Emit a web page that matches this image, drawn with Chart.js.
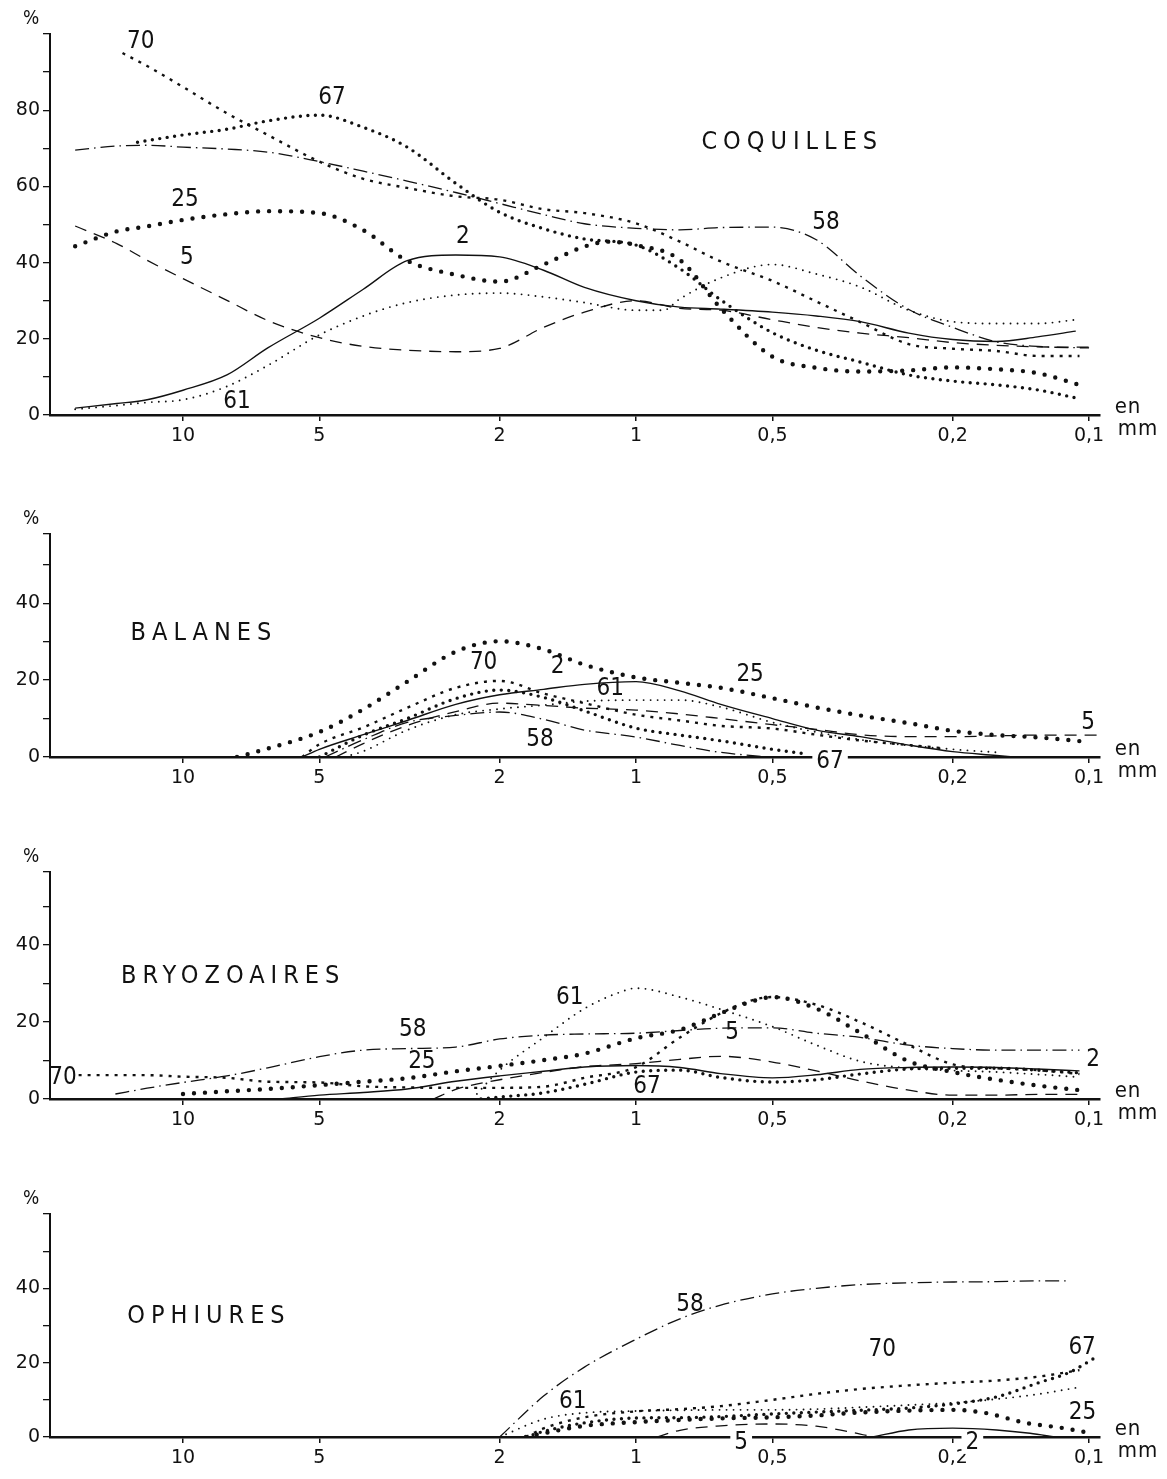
<!DOCTYPE html>
<html><head><meta charset="utf-8">
<script src="https://cdn.jsdelivr.net/npm/chart.js@4.4.1/dist/chart.umd.min.js"></script>
<style>
html,body{margin:0;padding:0;background:#fff;}
body{width:1167px;height:1479px;position:relative;overflow:hidden;}
canvas{position:absolute;left:0;}
</style></head><body>
<canvas id="c1"></canvas><canvas id="c2"></canvas><canvas id="c3"></canvas><canvas id="c4"></canvas>
<script>
// x axis: grain size in mm (log scale, reversed)
const SIZE_TICKS = [10, 5, 2, 1, 0.5, 0.2, 0.1];
const SERIES_NAMES = ['2', '5', '25', '58', '61', '67', '70'];
const PANEL_TITLES = ['COQUILLES', 'BALANES', 'BRYOZOAIRES', 'OPHIURES'];

// ---- COQUILLES : [mm, %]
const coq_2  = [[17.3,1.8],[14,3],[12,4],[10,6.5],[8,10.5],[6.5,17.6],[5,25.4],[4,33],[3.2,40.5],[2.5,42],[2,41.5],[1.6,38],[1.3,33.5],[1,30],[0.8,28.3],[0.65,27.8],[0.5,27],[0.4,26],[0.32,24.5],[0.25,21.5],[0.2,19.8],[0.16,19.3],[0.13,20.5],[0.107,22]];
const coq_5  = [[17.3,49.6],[14,45],[12,40.6],[10,35.8],[8,30.1],[6.5,24.8],[5,20.3],[4,18],[3.2,17],[2.5,16.6],[2,17.5],[1.6,23],[1.3,27],[1,30],[0.8,28],[0.65,27.5],[0.5,25],[0.4,23],[0.32,21.5],[0.25,20.3],[0.2,19],[0.16,18.3],[0.13,17.9],[0.1,17.8]];
const coq_25 = [[17.3,44.3],[14,48.2],[12,49.5],[10,51.2],[8,52.7],[6.5,53.5],[5,53],[4,48.5],[3.2,40.5],[2.5,36.8],[2,35],[1.6,39.5],[1.3,44.2],[1.15,45.5],[1,44.6],[0.8,40.7],[0.65,28],[0.5,15.3],[0.4,12.4],[0.32,11.4],[0.25,11.7],[0.2,12.5],[0.16,12],[0.13,11],[0.105,7.9]];
const coq_58 = [[17.3,69.5],[14,70.6],[12,70.8],[10,70.3],[8,69.8],[6.5,69],[5,66.5],[4,64],[3.2,61.4],[2.5,58.4],[2,55.5],[1.6,52.6],[1.3,50.2],[1,49],[0.8,48.6],[0.65,49.2],[0.5,49.3],[0.4,46],[0.32,36.5],[0.25,27.7],[0.2,23],[0.16,19.2],[0.13,18],[0.1,17.6]];
const coq_61 = [[17.3,1.5],[14,2.5],[12,3.3],[10,4],[8,7.5],[6.5,13],[5,21],[4,26],[3.2,29.5],[2.5,31.5],[2,32],[1.6,31],[1.3,29.5],[1,27.5],[0.87,27.5],[0.8,30.5],[0.65,36],[0.5,39.5],[0.4,37],[0.32,33.6],[0.25,27.5],[0.2,24.5],[0.16,24],[0.13,24],[0.107,25]];
const coq_67 = [[12.6,71.6],[10,73.5],[8,75],[6.5,77.2],[5,78.7],[4,75.5],[3.2,70.3],[2.5,60.8],[2,53.2],[1.6,48.9],[1.3,46.2],[1,44.6],[0.8,38.4],[0.65,30.2],[0.5,21.6],[0.4,17],[0.32,13.9],[0.25,10.5],[0.2,8.9],[0.16,7.9],[0.13,6.6],[0.107,4.5]];
const coq_70 = [[13.6,95],[12,91.6],[10,86.1],[8,79.2],[6.5,73.5],[5,66.5],[4,62],[3.2,59.6],[2.5,57.4],[2,56.5],[1.6,54],[1.3,53],[1,50.3],[0.8,45.5],[0.65,40.3],[0.5,35.2],[0.4,29.8],[0.32,24.4],[0.25,18.6],[0.2,17.4],[0.16,16.8],[0.13,15.5],[0.105,15.5]];

// ---- BALANES
const bal_2  = [[5.46,0],[5,2],[4,5.8],[3.2,9.5],[2.5,13.7],[2,16.2],[1.6,17.6],[1.3,18.9],[1,19.6],[0.8,17.2],[0.65,13.7],[0.5,10],[0.4,7],[0.32,5.3],[0.25,3.1],[0.2,1.4],[0.16,0.4],[0.147,0]];
const bal_5  = [[4.6,0],[4,3.5],[3.2,8.2],[2.5,11.8],[2,14],[1.6,13.4],[1.3,12.7],[1,12.2],[0.8,11.2],[0.65,10],[0.5,8.4],[0.4,7.2],[0.32,5.8],[0.25,5.3],[0.2,5.3],[0.16,5.5],[0.13,5.7],[0.095,5.7]];
const bal_25 = [[7.6,0],[6.5,2.2],[5,6.5],[4,12.4],[3.2,19.6],[2.5,27.4],[2,30.1],[1.6,28],[1.3,24],[1,20.7],[0.8,19.3],[0.65,18],[0.5,15.3],[0.4,12.9],[0.32,10.8],[0.25,8.8],[0.2,6.8],[0.16,5.7],[0.13,5.1],[0.1,3.9]];
const bal_58 = [[4.86,0],[4,4.5],[3.2,9],[2.5,10.8],[2,11.7],[1.6,9.8],[1.3,7],[1,5.2],[0.8,3],[0.65,1.2],[0.51,0]];
const bal_61 = [[4.4,0],[4,1.5],[3.2,7],[2.5,11],[2,12.5],[1.6,13.5],[1.3,14.5],[1,14.8],[0.8,14.8],[0.65,13],[0.5,9],[0.4,6.5],[0.32,4.5],[0.25,3],[0.2,2],[0.16,1.2]];
const bal_67 = [[5,0],[4,5.7],[3.2,10],[2.5,15.2],[2,17.4],[1.6,15.5],[1.3,12],[1,7.5],[0.8,5.7],[0.65,4.2],[0.5,2],[0.42,0.8]];
const bal_70 = [[5.46,0],[5,3.3],[4,7.7],[3.2,12.8],[2.5,18],[2,19.8],[1.6,16.5],[1.3,14],[1,11],[0.8,9.5],[0.65,8.1],[0.5,7.4],[0.4,5.8],[0.32,4.3],[0.25,3.1],[0.21,2.3]];

// ---- BRYOZOAIRES
const bry_2  = [[6.1,0],[5,1],[4,1.7],[3.2,2.6],[2.5,4.6],[2,6],[1.6,7.2],[1.3,8.3],[1,8.7],[0.8,8.2],[0.65,6.6],[0.5,5.5],[0.4,6.3],[0.32,7.7],[0.25,8.2],[0.2,8.3],[0.16,8.2],[0.13,7.8],[0.105,7.3]];
const bry_5  = [[2.8,0],[2.5,2.5],[2,5],[1.6,6.9],[1.3,8.4],[1,9.2],[0.8,10.3],[0.65,11.1],[0.5,9.6],[0.4,7.3],[0.32,4.7],[0.25,2.3],[0.2,1],[0.16,1],[0.13,1.2],[0.105,1.2]];
const bry_25 = [[10,1.3],[8,2],[6.5,2.6],[5,3.6],[4,4.5],[3.2,5.4],[2.5,7.2],[2,8.6],[1.6,10.1],[1.3,11.8],[1,15.8],[0.8,18],[0.65,22.3],[0.55,25.5],[0.5,26.5],[0.4,23.5],[0.32,17.2],[0.25,9.8],[0.2,7],[0.16,5],[0.13,3.5],[0.105,2.3]];
const bry_58 = [[14.1,1.3],[12,2.8],[10,4.3],[8,6],[6.5,8.1],[5,11],[4,12.7],[3.2,13.1],[2.5,13.5],[2,15.6],[1.6,16.6],[1.3,16.9],[1,17.1],[0.8,17.8],[0.65,18.4],[0.5,18.5],[0.4,17.1],[0.32,16],[0.25,14],[0.2,13.1],[0.16,12.7],[0.13,12.7],[0.105,12.7]];
const bry_61 = [[2.3,0],[2,7.5],[1.6,16],[1.3,23.5],[1.1,27.5],[1,28.8],[0.8,26.5],[0.65,23.3],[0.5,18.8],[0.4,14],[0.32,9.8],[0.25,8],[0.2,7.4],[0.16,7],[0.13,6.4],[0.105,5.7]];
const bry_67 = [[2.2,0],[2,0.5],[1.6,1.6],[1.3,3.8],[1,7],[0.8,7.5],[0.65,5.6],[0.5,4.4],[0.4,5],[0.32,6.5],[0.25,7.8],[0.2,8],[0.16,8],[0.13,7.5],[0.105,6.8]];
const bry_70 = [[17,6.2],[14,6.2],[12,6.2],[10,5.8],[8,5.5],[6.5,4.5],[5,4.3],[4,3.3],[3.2,3],[2.5,2.9],[2,2.9],[1.6,3.2],[1.3,5.5],[1,8.3],[0.8,16],[0.65,22.3],[0.55,25.8],[0.5,26.5],[0.4,24.5],[0.32,20],[0.25,14],[0.2,9],[0.16,8],[0.13,7.5],[0.105,6.5]];

// ---- OPHIURES
const oph_2  = [[0.3,0],[0.25,1.9],[0.2,2.4],[0.16,1.9],[0.135,1],[0.119,0]];
const oph_5  = [[0.9,0],[0.8,1.8],[0.65,3],[0.5,3.5],[0.4,2.9],[0.32,0.8],[0.3,0]];
const oph_25 = [[1.75,0],[1.6,1],[1.3,3],[1,4],[0.8,4.6],[0.65,5],[0.5,5.3],[0.4,5.8],[0.32,6.6],[0.25,7.1],[0.2,7.3],[0.17,6.5],[0.138,3.8],[0.114,2.4],[0.1,1.1]];
const oph_58 = [[2,0],[1.6,11],[1.3,18.8],[1,26.3],[0.8,31.8],[0.65,35.5],[0.5,38.5],[0.4,40],[0.32,41],[0.25,41.5],[0.2,41.7],[0.16,41.8],[0.13,42],[0.11,42]];
const oph_61 = [[2,0],[1.6,4.8],[1.3,6.5],[1,7],[0.8,7.2],[0.65,7.3],[0.5,7.3],[0.4,7.5],[0.32,8],[0.25,8.6],[0.2,9.2],[0.16,10.2],[0.13,11.5],[0.105,13.4]];
const oph_67 = [[1.75,0],[1.6,1.5],[1.3,3.8],[1,5.1],[0.8,5.2],[0.65,5.5],[0.5,6.2],[0.4,6.7],[0.32,7.2],[0.25,7.8],[0.2,8.9],[0.16,10.8],[0.13,14.5],[0.11,17.5],[0.098,21]];
const oph_70 = [[1.75,0],[1.6,2.3],[1.3,5.3],[1,6.9],[0.8,7.5],[0.65,8.3],[0.5,10],[0.4,11.6],[0.32,12.9],[0.25,13.9],[0.2,14.6],[0.16,15.2],[0.13,16.2],[0.105,18]];

// curve labels: [text, mm, %]
const coq_labels = [['70',12.4,97.9],['67',4.69,83.2],['25',9.9,56.4],['5',9.8,41.2],['2',2.41,46.7],['61',7.6,3.4],['58',0.381,50.4]];
const bal_labels = [['70',2.17,24.4],['2',1.49,23.4],['61',1.14,17.7],['25',0.56,21.3],['58',1.63,4.4],['5',0.1005,8.8],['67',0.373,-1.3]];
const bry_labels = [['70',18.4,5.5],['58',3.11,17.9],['25',2.97,9.6],['61',1.40,26.2],['5',0.614,17.1],['67',0.946,3.1],['2',0.098,10.1]];
const oph_labels = [['58',0.76,35.5],['61',1.38,9.4],['70',0.286,23.4],['67',0.1036,23.9],['25',0.1034,6.5],['5',0.586,-1.6],['2',0.181,-1.6]];
// labels that cut the axis line
const CUT_LABELS = ['bal:67','oph:5','oph:2'];
// titles: [mm, %] centre
const coq_title = [0.459, 71.4];
const bal_title = [9.13, 32.2];
const bry_title = [7.87, 31.9];
const oph_title = [8.9, 32.5];

const INK = '#111';
const FONT = '"DejaVu Sans Condensed", "DejaVu Sans", sans-serif';
const TICK_FONT = '"DejaVu Sans", sans-serif';
const STYLE = {
  '2':  {borderWidth: 1.4, borderDash: []},
  '5':  {borderWidth: 1.3, borderDash: [12, 8]},
  '25': {borderWidth: 4.4, borderDash: [0, 11], borderCapStyle: 'round'},
  '58': {borderWidth: 1.3, borderDash: [14, 5, 1.5, 5]},
  '61': {borderWidth: 1.9, borderDash: [0, 7], borderCapStyle: 'round'},
  '67': {borderWidth: 3.4, borderDash: [0, 7.5], borderCapStyle: 'round'},
  '70': {borderWidth: 2.4, borderDash: [3, 6]}
};

const PANELS = [
  {id:'c1', key:'coq', top:0,    padTop:34, plotH:381, yMax:100, topLabel:80, title:PANEL_TITLES[0], titlePos:coq_title,
   series:{'2':coq_2,'5':coq_5,'25':coq_25,'58':coq_58,'61':coq_61,'67':coq_67,'70':coq_70}, labels:coq_labels},
  {id:'c2', key:'bal', top:490,  padTop:44, plotH:223, yMax:58, topLabel:40, title:PANEL_TITLES[1], titlePos:bal_title,
   series:{'2':bal_2,'5':bal_5,'25':bal_25,'58':bal_58,'61':bal_61,'67':bal_67,'70':bal_70}, labels:bal_labels},
  {id:'c3', key:'bry', top:830,  padTop:42, plotH:227, yMax:59, topLabel:40, title:PANEL_TITLES[2], titlePos:bry_title,
   series:{'2':bry_2,'5':bry_5,'25':bry_25,'58':bry_58,'61':bry_61,'67':bry_67,'70':bry_70}, labels:bry_labels},
  {id:'c4', key:'oph', top:1170, padTop:44, plotH:223, yMax:60, topLabel:40, title:PANEL_TITLES[3], titlePos:oph_title,
   series:{'2':oph_2,'5':oph_5,'25':oph_25,'58':oph_58,'61':oph_61,'67':oph_67,'70':oph_70}, labels:oph_labels}
];

const W = 1167, AXIS_W = 50, RIGHT_PAD = 67, XAXIS_H = 40;

const annot = {
  id: 'annot',
  afterDraw(chart) {
    const p = chart.options.plugins.annot;
    const {ctx, chartArea: a, scales: {x, y}} = chart;
    ctx.save();
    ctx.fillStyle = INK;
    ctx.textAlign = 'center';
    ctx.textBaseline = 'middle';
    ctx.font = '19px ' + FONT;
    ctx.fillText('%', a.left - 19, a.top - 15);
    ctx.font = '22px ' + FONT;
    ctx.letterSpacing = '1px';
    ctx.fillText('en', a.right + 28, a.bottom - 8);
    ctx.fillText('mm', a.right + 38, a.bottom + 14);
    // title with letter spacing
    ctx.font = '25px ' + FONT;
    ctx.letterSpacing = '6px';
    const tw = ctx.measureText(p.title).width - 6;
    ctx.textAlign = 'left';
    ctx.fillText(p.title, x.getPixelForValue(p.titlePos[0]) - tw / 2, y.getPixelForValue(p.titlePos[1]));
    ctx.letterSpacing = '0px';
    ctx.textAlign = 'center';
    ctx.font = '24px ' + FONT;
    p.labels.forEach(([t, mm, v]) => {
      const px = x.getPixelForValue(mm), py = y.getPixelForValue(v);
      if (CUT_LABELS.includes(p.key + ':' + t)) {
        const w = ctx.measureText(t).width;
        ctx.fillStyle = '#fff';
        ctx.fillRect(px - w / 2 - 4, py - 11, w + 8, 22);
        ctx.fillStyle = INK;
      }
      ctx.fillText(t, px, py);
    });
    ctx.restore();
  }
};

PANELS.forEach(P => {
  const cv = document.getElementById(P.id);
  const H = P.padTop + P.plotH + XAXIS_H;
  cv.width = W; cv.height = H;
  cv.style.top = P.top + 'px';
  cv.style.width = W + 'px'; cv.style.height = H + 'px';
  const datasets = SERIES_NAMES.map(n => Object.assign({
    label: n,
    data: P.series[n].map(([mm, v]) => ({x: mm, y: v})),
    borderColor: INK,
    backgroundColor: INK,
    fill: false,
    pointRadius: 0,
    cubicInterpolationMode: 'monotone',
    borderCapStyle: 'butt',
    borderJoinStyle: 'round'
  }, STYLE[n]));
  new Chart(cv, {
    type: 'line',
    data: {datasets},
    options: {
      responsive: false,
      animation: false,
      devicePixelRatio: 1,
      layout: {padding: {top: P.padTop, right: RIGHT_PAD, left: 0, bottom: 0}},
      plugins: {
        legend: {display: false}, tooltip: {enabled: false},
        annot: {key: P.key, title: P.title, titlePos: P.titlePos, labels: P.labels}
      },
      scales: {
        x: {
          type: 'logarithmic', reverse: true, min: 0.0946, max: 19.66,
          border: {display: true, color: INK, width: 2.5},
          grid: {display: true, drawOnChartArea: false, drawTicks: true, tickLength: 6, color: INK, lineWidth: 1.5},
          afterBuildTicks: s => { s.ticks = SIZE_TICKS.map(v => ({value: v})); },
          afterFit: s => { s.height = XAXIS_H; },
          ticks: {
            autoSkip: false, maxRotation: 0, padding: 4, color: INK,
            font: {family: TICK_FONT, size: 19},
            callback: v => String(v).replace('.', ',')
          }
        },
        y: {
          type: 'linear', min: 0, max: P.yMax,
          border: {display: true, color: INK, width: 2},
          grid: {display: true, drawOnChartArea: false, drawTicks: true, tickLength: 7, color: INK, lineWidth: 1.3},
          afterFit: s => { s.width = AXIS_W; },
          ticks: {
            stepSize: 10, padding: 3, color: INK,
            font: {family: TICK_FONT, size: 19},
            callback: v => (v % 20 === 0 && v <= P.topLabel) ? String(v) : ''
          }
        }
      }
    },
    plugins: [annot]
  });
});
</script>
</body></html>
